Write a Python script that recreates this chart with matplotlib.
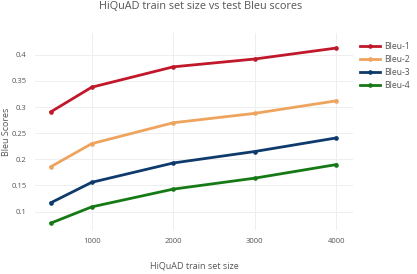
import matplotlib
matplotlib.use('Agg')
import matplotlib.pyplot as plt

# data
train_sizes = [500, 1000, 2000, 3000, 4000]
bleu1 = [0.291, 0.338, 0.377, 0.392, 0.413]
bleu2 = [0.186, 0.230, 0.270, 0.288, 0.312]
bleu3 = [0.117, 0.156, 0.193, 0.215, 0.241]
bleu4 = [0.078, 0.109, 0.143, 0.164, 0.190]
series_names = ['Bleu-1', 'Bleu-2', 'Bleu-3', 'Bleu-4']
x_ticks = [1000, 2000, 3000, 4000]
y_ticks = [0.1, 0.15, 0.2, 0.25, 0.3, 0.35, 0.4]

colors = ['#c0182a', '#efa45e', '#0e3a6c', '#157a15']

plt.rcParams['font.family'] = ['Open Sans', 'DejaVu Sans']

fig = plt.figure(figsize=(4.17, 2.74), dpi=100)
ax = fig.add_axes([0.084, 0.161, 0.763, 0.719])

for name, ys, c in zip(series_names, [bleu1, bleu2, bleu3, bleu4], colors):
    ax.plot(train_sizes, ys, color=c, lw=2.0, marker='o', ms=2.3, label=name)

ax.set_xlim(305, 4207)
ax.set_ylim(0.065, 0.442)
ax.set_xticks(x_ticks)
ax.set_xticklabels([str(t) for t in x_ticks])
ax.set_yticks(y_ticks)
ax.set_yticklabels(['%g' % t for t in y_ticks])
ax.tick_params(length=0, labelsize=5.5, colors='#555555', pad=6)
ax.grid(color='#eeeeee', lw=0.7)
ax.set_axisbelow(True)
for s in ax.spines.values():
    s.set_visible(False)

ax.set_xlabel('HiQuAD train set size', fontsize=6.5, color='#555555', labelpad=12)
# y label placed by hand so it stays inside the canvas
fig.text(0.016, 0.52, 'Bleu Scores', rotation=90, ha='center', va='center',
         fontsize=6.5, color='#555555')

fig.text(0.48, 0.975, 'HiQuAD train set size vs test Bleu scores',
         ha='center', va='center', fontsize=7.8, color='#555555')

leg = ax.legend(loc='upper left', bbox_to_anchor=(1.01, 0.97), frameon=False,
                fontsize=6.2, handlelength=2.4, handletextpad=0.4,
                labelspacing=0.45, borderaxespad=0)
for t in leg.get_texts():
    t.set_color('#555555')

fig.savefig('out.png', dpi=100)
